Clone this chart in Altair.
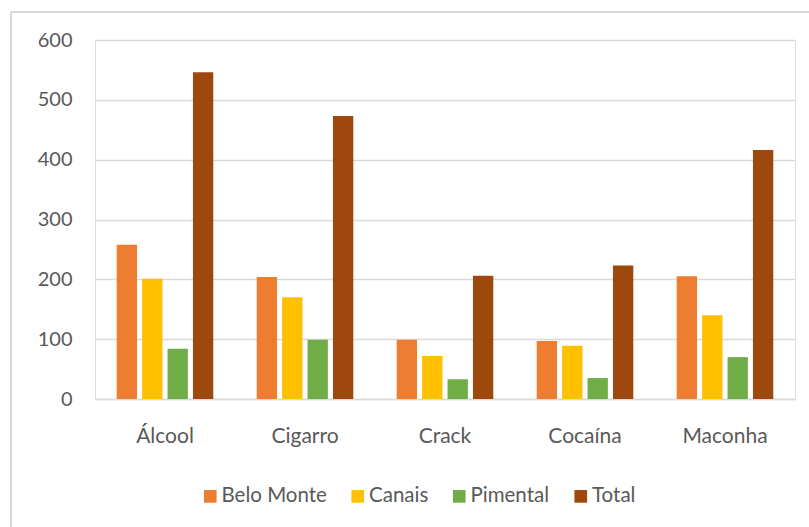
import altair as alt
import pandas as pd

# Substances and per-location counts
categories = ["Álcool", "Cigarro", "Crack", "Cocaína", "Maconha"]
series = ["Belo Monte", "Canais", "Pimental", "Total"]
belo_monte = [258, 204, 99, 97, 205]
canais = [201, 170, 72, 89, 140]
pimental = [84, 99, 33, 35, 70]
total = [546, 473, 206, 223, 416]
colors = ["#ED7D31", "#FFC000", "#70AD47", "#9E480E"]

rows = []
for name, values in zip(series, [belo_monte, canais, pimental, total]):
    for cat, v in zip(categories, values):
        rows.append({"Substância": cat, "Local": name, "Valor": v})
df = pd.DataFrame(rows)

FONT = "Lato"
GRAY = "#595959"

bars = alt.Chart(df).mark_bar().encode(
    x=alt.X("Substância:N", sort=categories,
            scale=alt.Scale(paddingInner=0.31, paddingOuter=0.155),
            axis=alt.Axis(title=None, labelAngle=0, ticks=False, domain=True,
                          domainColor="#d9d9d9", domainWidth=1.5,
                          labelPadding=26, labelFontSize=21, labelFont=FONT,
                          labelColor=GRAY)),
    xOffset=alt.XOffset("Local:N", sort=series,
                        scale=alt.Scale(paddingInner=0.2, paddingOuter=0)),
    y=alt.Y("Valor:Q", scale=alt.Scale(domain=[0, 600]),
            axis=alt.Axis(title=None, values=[0, 100, 200, 300, 400, 500, 600],
                          ticks=False, domain=False, grid=True,
                          gridColor="#d9d9d9", gridWidth=1.3,
                          labelPadding=23, labelFontSize=20, labelFont=FONT,
                          labelColor=GRAY)),
    color=alt.Color("Local:N", sort=series,
                    scale=alt.Scale(domain=series, range=colors),
                    legend=alt.Legend(title=None, orient="none", direction="horizontal",
                                      legendX=105, legendY=446,
                                      symbolType="square", symbolSize=160,
                                      symbolStrokeWidth=0, labelFontSize=20.5,
                                      labelFont=FONT, labelColor=GRAY,
                                      columnPadding=20.5, labelOffset=1)),
)

# light outer frame around the chart
frame_top = alt.Chart(df).mark_rule(color="#d9d9d9", strokeWidth=1.5).encode(
    x=alt.value(-84), x2=alt.value(714), y=alt.value(-28)
)
frame_left = alt.Chart(df).mark_rule(color="#d9d9d9", strokeWidth=1.5).encode(
    x=alt.value(-84), y=alt.value(-28), y2=alt.value(500)
)

chart = alt.layer(frame_top, frame_left, bars).properties(
    width=700, height=359,
    padding={"left": 95, "top": 40, "right": 14, "bottom": 128},
    autosize=alt.AutoSizeParams(type="none"),
).configure_view(stroke=None).configure(background="white")

chart.save("out.html", embed_options={"renderer": "svg", "actions": False})
